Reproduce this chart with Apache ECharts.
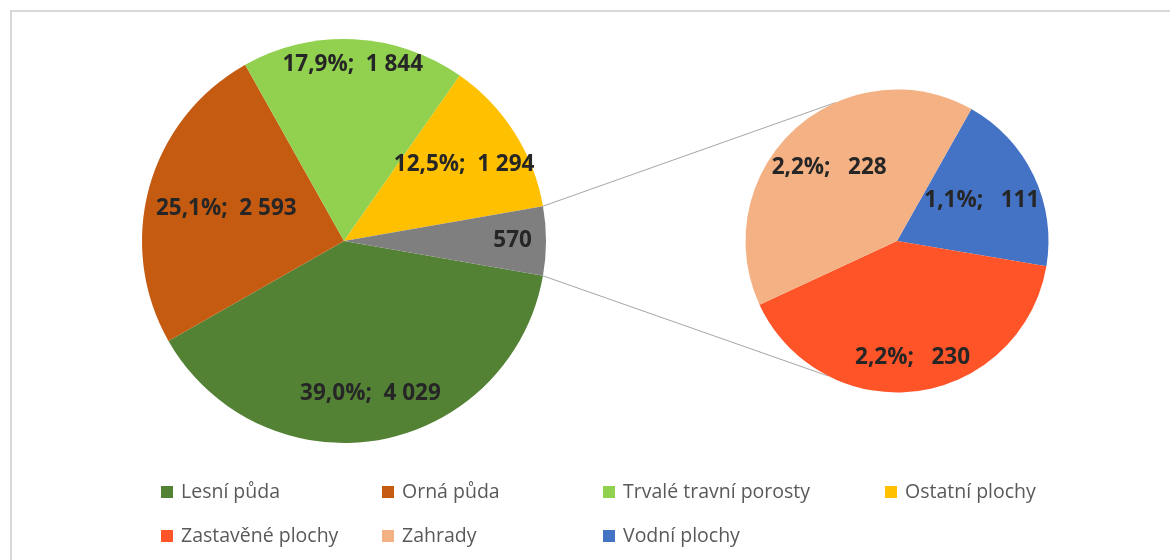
<!DOCTYPE html>
<html><head><meta charset="utf-8">
<script src="https://cdn.jsdelivr.net/npm/echarts@6/dist/echarts.min.js"></script>
<style>html,body{margin:0;padding:0;background:#fff}#c{width:1170px;height:560px}</style>
</head><body><div id="c"></div>
<script>
// ---- data ----
const mainCategories = ['Lesní půda', 'Orná půda', 'Trvalé travní porosty', 'Ostatní plochy', 'Jiné'];
const mainValues = [4029, 2593, 1844, 1294, 570];
const subCategories = ['Vodní plochy', 'Zastavěné plochy', 'Zahrady'];
const subValues = [111, 230, 228];
const legendNames = ['Lesní půda', 'Orná půda', 'Trvalé travní porosty', 'Ostatní plochy', 'Zastavěné plochy', 'Zahrady', 'Vodní plochy'];

// ---- styles / layout ----
const colorMap = {
  'Lesní půda': '#548235', 'Orná půda': '#C55A11', 'Trvalé travní porosty': '#92D050',
  'Ostatní plochy': '#FFC000', 'Jiné': '#7F7F7F', 'Zastavěné plochy': '#FF5328',
  'Zahrady': '#F4B183', 'Vodní plochy': '#4472C4'
};
const MAIN = { cx: 344, cy: 241, r: 202 };
const SUB = { cx: 897, cy: 241, r: 151.5, startAngle: 60.6 };
const mainLabelRadius = [0.75, 0.59, 0.86, 0.69, 0.82];
const subLabelRadius = [0.6, 0.755, 0.64];
const connectorSubAngles = [114, -117];
const legendCols = [161, 382, 603, 885];
const legendRows = [481, 525];
const legendSlots = [[0, 0], [1, 0], [2, 0], [3, 0], [0, 1], [1, 1], [2, 1]];
const FONT = '"Open Sans"';

const grandTotal = mainValues.reduce((a, b) => a + b, 0);
const otherAngle = mainValues[mainValues.length - 1] / grandTotal * 360;
const mainStart = 360 - otherAngle / 2;

function fmtNum(v) { return String(v).replace(/\B(?=(\d{3})+(?!\d))/g, ' '); }
function fmtPct(v) { return (v / grandTotal * 100).toFixed(1).replace('.', ',') + '%'; }

function makeLayout(values, startAngle, r, fracs) {
  const tot = values.reduce((a, b) => a + b, 0);
  return function (params) {
    const i = params.dataIndex;
    let cum = 0;
    for (let j = 0; j < i; j++) cum += values[j];
    const mid = (startAngle - (cum + values[i] / 2) / tot * 360) * Math.PI / 180;
    const k = fracs[i] - 0.5;
    return { dx: k * r * Math.cos(mid), dy: -k * r * Math.sin(mid) };
  };
}

function pt(c, r, deg) {
  const a = deg * Math.PI / 180;
  return [c.cx + r * Math.cos(a), c.cy - r * Math.sin(a)];
}

const mainOtherTop = pt(MAIN, MAIN.r, otherAngle / 2);
const mainOtherBot = pt(MAIN, MAIN.r, -otherAngle / 2);
const subTop = pt(SUB, SUB.r, connectorSubAngles[0]);
const subBot = pt(SUB, SUB.r, connectorSubAngles[1]);

const labelStyle = {
  position: 'inside', color: '#262626', fontFamily: FONT, fontWeight: 'bold', fontSize: 22.5
};

const chart = echarts.init(document.getElementById('c'), null, { renderer: 'canvas' });
chart.setOption({
  animation: false,
  backgroundColor: '#fff',
  graphic: [
    { type: 'rect', silent: true, z: 0, shape: { x: 11, y: 11, width: 1300, height: 700 },
      style: { fill: 'none', stroke: '#d9d9d9', lineWidth: 2 } },
    { type: 'line', silent: true, z: 0, shape: { x1: mainOtherTop[0], y1: mainOtherTop[1], x2: subTop[0], y2: subTop[1] },
      style: { stroke: '#a6a6a6', lineWidth: 1 } },
    { type: 'line', silent: true, z: 0, shape: { x1: mainOtherBot[0], y1: mainOtherBot[1], x2: subBot[0], y2: subBot[1] },
      style: { stroke: '#a6a6a6', lineWidth: 1 } }
  ],
  legend: legendNames.map((n, i) => ({
    data: [n], selectedMode: false, icon: 'rect', itemWidth: 12, itemHeight: 12, padding: 0,
    left: legendCols[legendSlots[i][0]], top: legendRows[legendSlots[i][1]],
    textStyle: { color: '#595959', fontFamily: FONT, fontSize: 19.5, lineHeight: 22, padding: [0, 0, 0, 3] }
  })),
  series: [
    {
      type: 'pie', center: [MAIN.cx, MAIN.cy], radius: [0, MAIN.r], startAngle: mainStart, clockwise: true,
      avoidLabelOverlap: false, emphasis: { disabled: true }, labelLine: { show: false },
      data: mainCategories.map((n, i) => ({ name: n, value: mainValues[i], itemStyle: { color: colorMap[n] } })),
      label: Object.assign({}, labelStyle, {
        formatter: p => p.dataIndex === mainValues.length - 1 ? fmtNum(p.value) : fmtPct(p.value) + ';  ' + fmtNum(p.value)
      }),
      labelLayout: makeLayout(mainValues, mainStart, MAIN.r, mainLabelRadius)
    },
    {
      type: 'pie', center: [SUB.cx, SUB.cy], radius: [0, SUB.r], startAngle: SUB.startAngle, clockwise: true,
      avoidLabelOverlap: false, emphasis: { disabled: true }, labelLine: { show: false },
      data: subCategories.map((n, i) => ({ name: n, value: subValues[i], itemStyle: { color: colorMap[n] } })),
      label: Object.assign({}, labelStyle, {
        formatter: p => fmtPct(p.value) + ';   ' + fmtNum(p.value)
      }),
      labelLayout: makeLayout(subValues, SUB.startAngle, SUB.r, subLabelRadius)
    }
  ]
});
</script></body></html>
